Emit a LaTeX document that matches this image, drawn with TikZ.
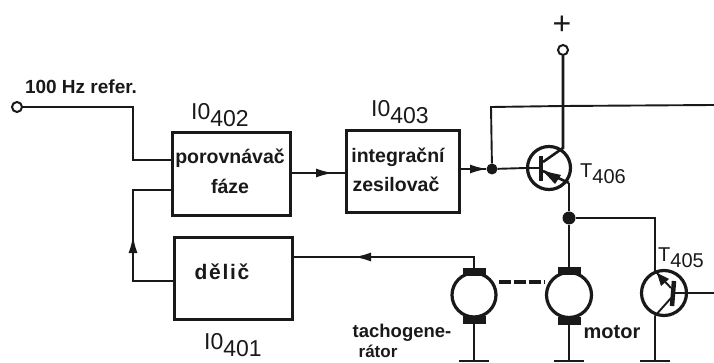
\documentclass[tikz,border=0pt]{standalone}
\usepackage{fontspec}
\setmainfont{Liberation Sans}
\usetikzlibrary{arrows.meta}
\newcommand{\subt}[1]{\raisebox{-0.32em}{#1}}
\tikzset{
  x=1pt,y=-1pt,
  wire/.style={line width=1.9pt,black!90},
  thick wire/.style={line width=2.6pt,black!90},
  blockbox/.style={draw=black!90,line width=3pt,fill=white,anchor=north west,inner sep=0pt},
  terminal/.style={circle,draw=black!90,line width=2pt,fill=white,minimum size=10pt,inner sep=0pt},
  junction/.style={circle,fill=black!90,minimum size=10pt,inner sep=0pt},
  devcircle/.style={circle,draw=black!90,line width=3.2pt,fill=white,inner sep=0pt},
  brush/.style={fill=black!90,minimum width=23pt,minimum height=8pt,inner sep=0pt},
  lbl/.style={font=\fontsize{19.5}{22}\selectfont\bfseries,text=black!90,inner sep=0pt,align=center},
  des/.style={font=\fontsize{23}{24}\selectfont,text=black!90,inner sep=0pt},
  tip/.style={-{Latex[length=17pt,width=9pt]}},
}
\begin{document}
\begin{tikzpicture}
\useasboundingbox (0,0) rectangle (714,363);
\clip (0,0) rectangle (714,363);
% blocks
\node[blockbox,minimum width=118pt,minimum height=83pt] (b402) at (171,131) {};
\node[blockbox,minimum width=118pt,minimum height=82pt] (b401) at (173,236) {};
\node[blockbox,minimum width=113pt,minimum height=82pt] (b403) at (345,129) {};
\node[lbl] (t402a) at (230,158) {porovnávač};
\node[lbl] (t402b) at (230,186) {fáze};
\node[lbl,font=\fontsize{21}{24}\selectfont\bfseries\addfontfeature{LetterSpace=8}] (t401) at (222,272) {dělič};
\node[lbl] (t403a) at (398,157) {integrační};
\node[lbl] (t403b) at (396,184) {zesilovač};
\node[des] (n402) at (220,115) {I0\subt{402}};
\node[des] (n401) at (233,345) {I0\subt{401}};
\node[des] (n403) at (400,112) {I0\subt{403}};
% terminals and junctions
\node[terminal] (tin) at (17,107) {};
\node[terminal] (tplus) at (563,50) {};
\node[des,font=\fontsize{32}{32}\selectfont] (plus) at (562,25) {+};
\node[lbl,font=\fontsize{19}{22}\selectfont\bfseries] (ref) at (81,87) {100 Hz refer.};
\node[junction,minimum size=11pt] (jb) at (492,169) {};
\node[junction,minimum size=13pt] (je) at (569,218) {};
% coordinates
\coordinate (i1) at (133,107);
\coordinate (i2) at (133,160);
\coordinate (in402) at (171,160);
\coordinate (fb1) at (171,190);
\coordinate (fb2) at (133,190);
\coordinate (fb3) at (133,281);
\coordinate (fb4) at (173,281);
\coordinate (fbm) at (133,236);
\coordinate (o402) at (289,173);
\coordinate (i403) at (345,173);
\coordinate (o403) at (458,169);
\coordinate (topl) at (491,107);
\coordinate (topr) at (714,105);
\coordinate (topm) at (563,106);
% transistor T406
\node[devcircle,minimum size=43pt] (t406) at (549,168) {};
\coordinate (c406) at (563,148);
\coordinate (e406) at (569,183);
\coordinate (bar1) at (541,156);
\coordinate (bar2) at (541,181);
\coordinate (barc) at (541,168);
\coordinate (gc) at (543,162);
\coordinate (ge) at (543,171);
\draw[thick wire] (tplus) -- (c406) -- (gc);
\draw[thick wire] (ge) -- (e406);
\fill[black!90] (ge) -- (561,175) -- (555,184) -- cycle;
\draw[line width=4.5pt,black!90] (bar1) -- (bar2);
\draw[wire] (jb) -- (t406.west) -- (barc);
\draw[thick wire] (e406) -- (je);
% T405
\node[devcircle,minimum size=45pt] (t405) at (664,293) {};
\coordinate (bar3) at (674,281);
\coordinate (bar4) at (672,306);
\coordinate (b405) at (673,293);
\coordinate (c405) at (655,271);
\coordinate (e405) at (655,316);
\draw[line width=4.5pt,black!90] (bar3) -- (bar4);
\draw[wire] (c405) -- (671,288);
\fill[black!90] (657,273) -- (669,279) -- (661,286) -- cycle;
\draw[wire] (671,298) -- (e405);
\draw[wire] (t405.east) -- (714,293);
\draw[wire] (b405) -- (t405.east);
% motor and tachogenerator
\node[devcircle,minimum size=45pt] (mot) at (569,295) {};
\node[devcircle,minimum size=44pt] (tach) at (474,295) {};
\node[brush] (mt) at (569,271) {};
\node[brush] (mb) at (569,321) {};
\node[brush] (tt) at (474,272) {};
\node[brush] (tb) at (474,320) {};
\draw[line width=3.6pt,black!90,dash pattern=on 12pt off 3pt] (tach.east) ++(1,-13) coordinate (d1) (mot.west) ++(-1,-13) coordinate (d2) (d1) -- (d2);
\node[lbl,font=\fontsize{20}{22}\selectfont\bfseries] (lmot) at (612,332) {motor};
\node[lbl,font=\fontsize{18.5}{20}\selectfont\bfseries] (ltach1) at (402,333) {tachogene-};
\node[lbl,font=\fontsize{17}{19}\selectfont\bfseries] (ltach2) at (378,351) {rátor};
\node[lbl,font=\fontsize{20}{22}\selectfont] (l406) at (603,174) {T\subt{406}};
\node[lbl,font=\fontsize{20}{22}\selectfont] (l405) at (681,258) {T\subt{405}};
% grounds
\coordinate (gt) at (474,361);
\coordinate (gm) at (569,361);
\coordinate (gq) at (655,361);
\draw[line width=2.8pt,black!90] (459,361) -- (489,361) (554,361) -- (584,361) (640,361) -- (670,361);
\draw[wire] (tb) -- (gt);
\draw[wire] (mb) -- (gm);
\draw[wire] (e405) -- (gq);
% connections
\draw[wire] (tin) -- (i1) -- (i2) -- (in402);
\draw[wire] (fb4) -- (fb3) -- (fb2) -- (fb1);
\draw[wire,tip] (fb3) -- (fbm);
\draw[wire] (o402) -- (i403);
\draw[wire,tip] (o402) -- (333,173);
\draw[wire] (o403) -- (jb);
\draw[wire,tip] (o403) -- (487,169);
\draw[wire] (jb) -- (topl) -- (topm) -- (topr);
\draw[thick wire] (je) -- (mt);
\draw[wire] (je) -| (c405);
\coordinate (w1) at (474,257);
\coordinate (w2) at (291,257);
\draw[wire] (tt) -- (w1) -- (w2);
\draw[wire,tip] (w1) -- (354,257);
\end{tikzpicture}
\end{document}
